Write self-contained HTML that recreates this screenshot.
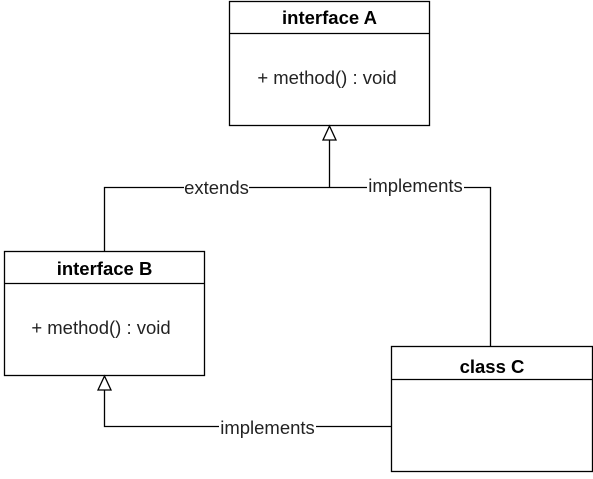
<!DOCTYPE html>
<html><head><style>body{margin:0;background:#fff}</style></head><body>
<svg width="593" height="474" xmlns="http://www.w3.org/2000/svg" font-family="Liberation Sans, Arial, sans-serif" font-size="18.5">
<rect x="0" y="0" width="593" height="474" fill="#fff"/>
<g fill="none" stroke="#000" stroke-width="1.3">
<rect x="229.5" y="1.5" width="200" height="124"/>
<line x1="229.5" y1="33.5" x2="429.5" y2="33.5"/>
<rect x="4.5" y="251.5" width="200" height="124"/>
<line x1="4.5" y1="283.5" x2="204.5" y2="283.5"/>
<rect x="391.5" y="346.5" width="201" height="125"/>
<line x1="391.5" y1="379.5" x2="592.5" y2="379.5"/>
<polyline points="104.5,251 104.5,187.5 490.5,187.5 490.5,346"/>
<line x1="329.5" y1="140" x2="329.5" y2="187.5"/>
<polygon points="329.5,126 323,140 336,140" fill="#fff"/>
<polyline points="104.5,390 104.5,426.5 391.5,426.5"/>
<polygon points="104.5,376 98,390 111,390" fill="#fff"/>
</g>
<g text-anchor="middle">
<text x="329.5" y="24" font-weight="bold">interface A</text>
<text x="327" y="84" fill="#222">+ method() : void</text>
<text x="104.5" y="275" font-weight="bold">interface B</text>
<text x="101" y="334" fill="#222">+ method() : void</text>
<text x="492" y="373" font-weight="bold">class C</text>
<rect x="184" y="179" width="65" height="17" fill="#fff"/>
<text x="216.5" y="194" fill="#222">extends</text>
<rect x="367" y="178" width="97" height="17" fill="#fff"/>
<text x="415.5" y="192" fill="#222">implements</text>
<rect x="219" y="418" width="97" height="17" fill="#fff"/>
<text x="267.5" y="434" fill="#222">implements</text>
</g>
</svg>
</body></html>
